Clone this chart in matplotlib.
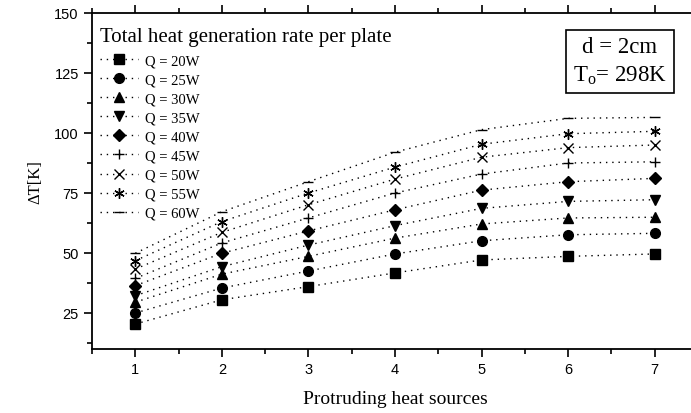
import numpy as np
import matplotlib.pyplot as plt
from matplotlib.ticker import MultipleLocator

plt.rcParams['mathtext.fontset'] = 'custom'
plt.rcParams['mathtext.rm'] = 'Liberation Serif'

serif = ['Liberation Serif', 'DejaVu Serif']
sans = ['Liberation Sans', 'DejaVu Sans']

# Data
sources = [1, 2, 3, 4, 5, 6, 7]
labels = ['Q = 20W', 'Q = 25W', 'Q = 30W', 'Q = 35W', 'Q = 40W',
          'Q = 45W', 'Q = 50W', 'Q = 55W', 'Q = 60W']
q20 = [20.4, 30.5, 36.0, 41.7, 47.1, 48.6, 49.6]
q25 = [25.0, 35.4, 42.5, 49.6, 55.1, 57.6, 58.2]
q30 = [29.5, 41.2, 48.6, 56.2, 62.1, 64.6, 64.9]
q35 = [32.2, 44.3, 53.3, 61.4, 68.6, 71.5, 72.2]
q40 = [36.4, 49.9, 59.2, 68.0, 76.2, 79.7, 81.1]
q45 = [39.4, 54.2, 64.6, 75.0, 82.9, 87.5, 88.0]
q50 = [43.3, 58.6, 70.1, 80.8, 89.9, 93.9, 95.0]
q55 = [46.8, 63.1, 75.0, 85.8, 95.3, 99.7, 100.7]
q60 = [49.9, 67.2, 79.7, 92.0, 101.4, 106.1, 106.5]

series = [q20, q25, q30, q35, q40, q45, q50, q55, q60]
markers = ['s', 'o', '^', 'v', 'D', '+', 'x', (6, 2, 0), '_']
sizes = [7, 7, 7.5, 7.5, 6, 7, 7, 7.5, 7.5]

fig = plt.figure(figsize=(6.91, 4.14), dpi=100)
ax = fig.add_axes([92 / 691, 64 / 414, 606 / 691, 336 / 414])

for ys, lab, m, s in zip(series, labels, markers, sizes):
    ax.plot(sources, ys, linestyle=(0, (1, 3.5)), linewidth=1.0, color='black',
            marker=m, markersize=s, markerfacecolor='black',
            markeredgecolor='black', markeredgewidth=1.0, label=lab)

ax.set_xlim(0.5, 7.5)
ax.set_ylim(10, 150)
ax.xaxis.set_major_locator(MultipleLocator(1))
ax.xaxis.set_minor_locator(MultipleLocator(0.5))
ax.yaxis.set_major_locator(MultipleLocator(25))
ax.yaxis.set_minor_locator(MultipleLocator(12.5))
ax.tick_params(which='major', direction='out', length=6, width=1.2,
               labelsize=10.5, top=True)
ax.tick_params(which='minor', direction='out', length=3.5, width=1.2, top=True)
for t in ax.get_xticklabels() + ax.get_yticklabels():
    t.set_family(sans)
for sp in ax.spines.values():
    sp.set_linewidth(1.3)

ax.set_xlabel('Protruding heat sources', fontsize=14, family=serif, labelpad=10)
ax.set_ylabel('\u0394T[K]', fontsize=12, family=serif, labelpad=8)

leg = ax.legend(loc='upper left', bbox_to_anchor=(-0.01, 1.0), frameon=False,
                title='Total heat generation rate per plate',
                prop={'family': serif, 'size': 10.5}, handlelength=2.6,
                labelspacing=0.4, borderaxespad=0.1, borderpad=0.85,
                handletextpad=0.5, alignment='left', numpoints=1)
leg.get_title().set_family(serif)
leg.get_title().set_fontsize(15)
leg._legend_box.sep = 6

fig.text(620 / 691, 1 - 62 / 414, 'd = 2cm\nT$_\\mathrm{o}$= 298K', family=serif,
         fontsize=16.5, ha='center', va='center', linespacing=1.35,
         bbox=dict(boxstyle='square,pad=0.3', facecolor='white',
                   edgecolor='black', linewidth=1.2))

fig.savefig('out.png', dpi=100)
